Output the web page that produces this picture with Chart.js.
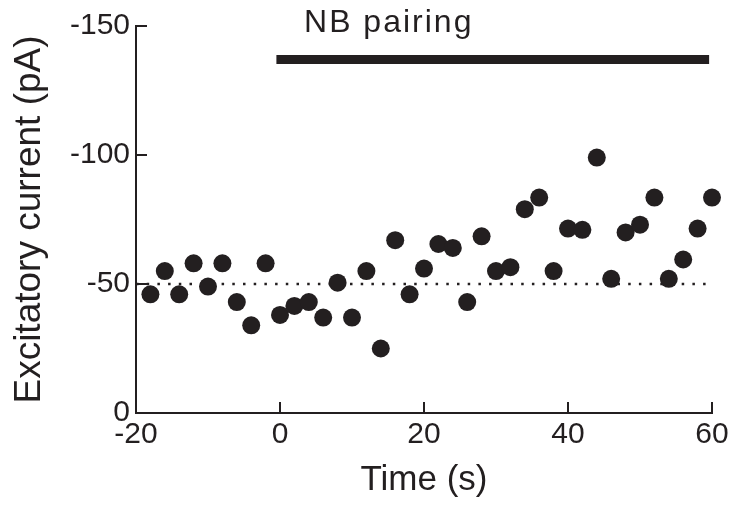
<!DOCTYPE html>
<html><head><meta charset="utf-8">
<script src="https://cdn.jsdelivr.net/npm/chart.js@4.4.0/dist/chart.umd.min.js"></script>
<style>html,body{margin:0;padding:0;background:#fff;} canvas{display:block;}</style>
</head><body>
<canvas id="c" width="748" height="507"></canvas>
<script>
// ---- data ----
const times = [-18,-16,-14,-12,-10,-8,-6,-4,-2,0,2,4,6,8,10,12,14,16,18,20,22,24,26,28,30,32,34,36,38,40,42,44,46,48,50,52,54,56,58,60];
const currents = [-46,-55,-46,-58,-49,-58,-43,-34,-58,-38,-41.5,-43,-37,-50.5,-37,-55,-25,-67,-46,-56,-65.5,-64,-43,-68.5,-55,-56.5,-79,-83.5,-55,-71.5,-71,-99,-52,-70,-73,-83.5,-52,-59.5,-71.5,-83.5];
const xTicks = [-20,0,20,40,60];
const yTicks = [0,-50,-100,-150];
const baselineLevel = [-50,-50];
const baselineSpan = [-20,59.5];
const pairingSpan = [-0.5,59.6];
const pairingLevel = [-137,-137];
const pairingLabel = 'NB pairing';
const xTitle = 'Time (s)';
const yTitle = 'Excitatory current (pA)';

const ink = '#231f20';
const FONT = '"Liberation Sans", Arial, Helvetica, sans-serif';

const points = times.map((t,i)=>({x:t,y:currents[i]}));
const baseLine = baselineSpan.map((t,i)=>({x:t,y:baselineLevel[i]}));
const pairLine = pairingSpan.map((t,i)=>({x:t,y:pairingLevel[i]}));

const decor = {
  id:'decor',
  afterDraw(chart){
    const {ctx, chartArea, scales:{x,y}} = chart;
    ctx.save();
    ctx.strokeStyle = ink; ctx.lineWidth = 2;
    x.ticks.forEach(t=>{
      const px = Math.round(x.getPixelForValue(t.value));
      ctx.beginPath(); ctx.moveTo(px, chartArea.bottom); ctx.lineTo(px, chartArea.bottom-11); ctx.stroke();
    });
    y.ticks.forEach(t=>{
      const py = Math.round(y.getPixelForValue(t.value));
      ctx.beginPath(); ctx.moveTo(chartArea.left, py); ctx.lineTo(chartArea.left+11, py); ctx.stroke();
    });
    ctx.fillStyle = ink;
    ctx.font = '32px ' + FONT;
    if ('letterSpacing' in ctx) ctx.letterSpacing = '2px';
    ctx.textAlign = 'center';
    ctx.textBaseline = 'alphabetic';
    ctx.fillText(pairingLabel, x.getPixelForValue(15.1), y.getPixelForValue(-147.5));
    ctx.restore();
  }
};

new Chart(document.getElementById('c'), {
  type:'scatter',
  data:{datasets:[
    {label:'baseline', data:baseLine, showLine:true, borderColor:ink, borderWidth:2.5, borderDash:[2.5,8.2], pointRadius:0, clip:false, order:3},
    {label:'NB pairing', data:pairLine, showLine:true, borderColor:ink, borderWidth:9, borderCapStyle:'butt', pointRadius:0, clip:false, order:2},
    {label:'current', data:points, backgroundColor:ink, borderColor:ink, borderWidth:0, pointRadius:9, clip:false, order:1}
  ]},
  options:{
    responsive:false, animation:false, events:[],
    layout:{padding:{left:0, top:26, right:36, bottom:0}},
    plugins:{legend:{display:false}, tooltip:{enabled:false}},
    scales:{
      x:{type:'linear', min:-20, max:60,
        afterBuildTicks:s=>{s.ticks = xTicks.map(v=>({value:v}));},
        afterFit:s=>{s.height = 94;},
        grid:{drawOnChartArea:false, drawTicks:false},
        border:{display:true, color:ink, width:2},
        ticks:{color:ink, font:{family:FONT, size:30}, padding:4, maxRotation:0, autoSkip:false},
        title:{display:true, text:xTitle, color:ink, font:{family:FONT, size:35}, padding:{top:0, bottom:6}}
      },
      y:{type:'linear', min:-150, max:0, reverse:true,
        afterBuildTicks:s=>{s.ticks = yTicks.map(v=>({value:v}));},
        afterFit:s=>{s.width = 136;},
        grid:{drawOnChartArea:false, drawTicks:false},
        border:{display:true, color:ink, width:2},
        ticks:{color:ink, font:{family:FONT, size:30}, padding:6, autoSkip:false, callback:v=>String(v)},
        title:{display:true, text:yTitle, color:ink, font:{family:FONT, size:37}, padding:{top:8, bottom:0}}
      }
    }
  },
  plugins:[decor]
});
</script>
</body></html>
